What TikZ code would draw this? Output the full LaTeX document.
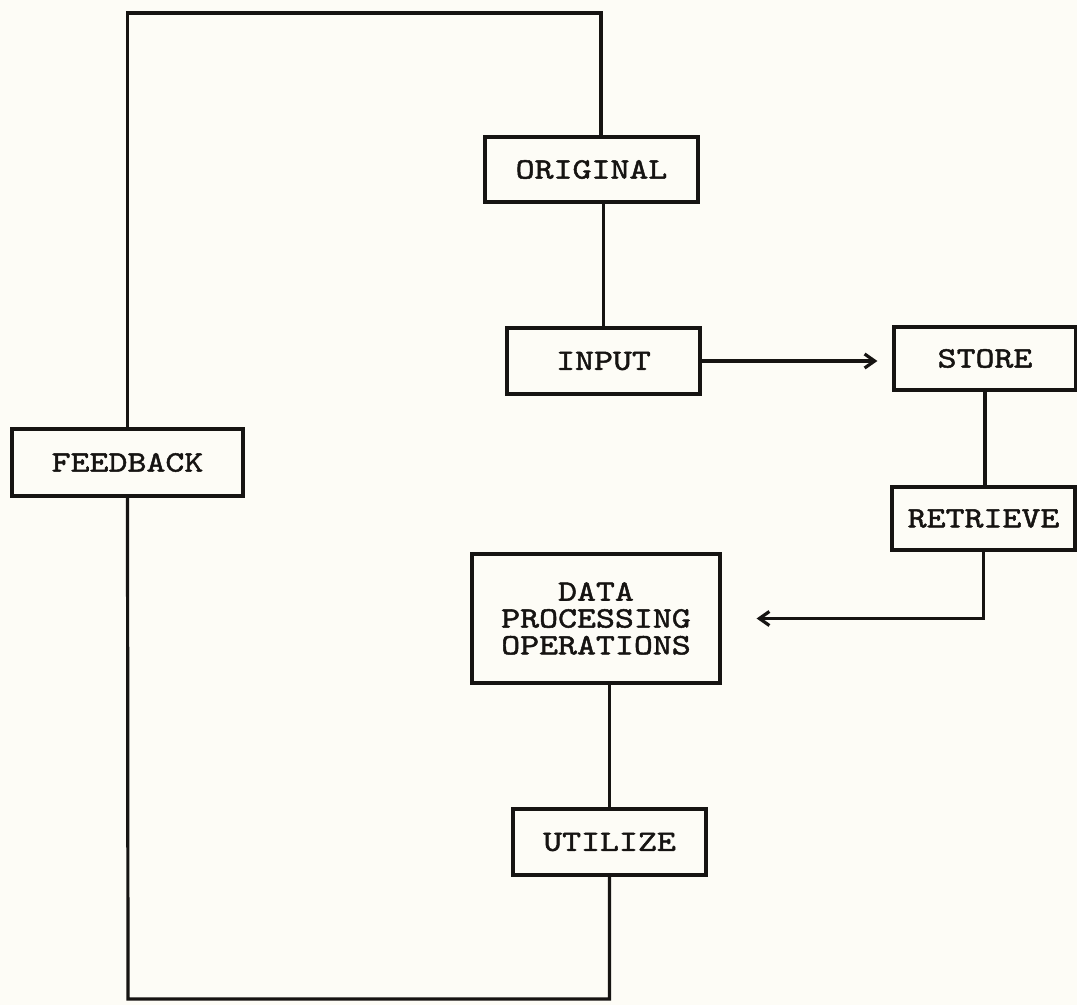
\documentclass[tikz,border=0pt]{standalone}
\usepackage{fontspec}
\usepackage{xcolor}
\usepackage{tikz}
\usetikzlibrary{
  positioning,
  arrows.meta,
  calc
}
\newfontfamily\boxfont[FakeStretch=1.22,FakeBold=1.6]{lmmono10-regular.otf}
\definecolor{PaperTone}{RGB}{253,252,246}
\definecolor{InkBlack}{RGB}{22,20,18}

\tikzset{
  stepbox/.style={draw=InkBlack, line width=1.6pt, inner sep=0pt,
    font=\boxfont\fontsize{14.8pt}{13.4pt}\selectfont, text=InkBlack,
    align=center, fill=PaperTone},
  flowline/.style={InkBlack, line width=1.6pt},
}

\begin{document}
\begin{tikzpicture}[x=0.5pt,y=-0.5pt,
  >={Straight Barb[length=5pt,width=7pt]}]
  % ---------- 背景（先画）----------
  \fill[PaperTone] (0,0) rectangle (1077,1005);
  \useasboundingbox (0,0) rectangle (1077,1005);

  % 方框
  \node[stepbox, minimum width=115.5pt, minimum height=33.5pt]
    (feedback) at (127.5,462.5) {FEEDBACK};
  \node[stepbox, minimum width=106.5pt, minimum height=32.5pt]
    (original) at (591.5,169.5) {ORIGINAL};
  \node[stepbox, minimum width=96.5pt, minimum height=33pt]
    (input) at (603.5,361) {INPUT};
  \node[stepbox, minimum width=91pt, minimum height=31.5pt]
    (store) at (985,358.5) {STORE};
  \node[stepbox, minimum width=91.5pt, minimum height=31.5pt]
    (retrieve) at (983.5,518.5) {RETRIEVE};
  \node[stepbox, minimum width=124pt, minimum height=64.5pt]
    (dataproc) at (596,618.5) {DATA\\PROCESSING\\OPERATIONS};
  \node[stepbox, minimum width=96.5pt, minimum height=33pt]
    (utilize) at (609.5,842) {UTILIZE};

  % 反馈回路
  \coordinate (loopTop) at (601,13);
  \coordinate (loopBottom) at (128,999);
  \draw[flowline] (feedback.north) |- (loopTop) -- (loopTop |- original.north);
  \draw[flowline] (utilize.south) |- (loopBottom) -- (feedback.south);

  % 主流程
  \draw[flowline] (original.south -| input.north) -- (input.north);
  \draw[flowline,->,shorten >=7.5pt] (input.east) -- (input.east -| store.west);
  \draw[flowline] (store.south) -- (store.south |- retrieve.north);
  \draw[flowline,->,shorten >=17.5pt] (retrieve.south) |- (dataproc.east);
  \draw[flowline] (dataproc.south -| utilize.north) -- (utilize.north);
\end{tikzpicture}
\end{document}
